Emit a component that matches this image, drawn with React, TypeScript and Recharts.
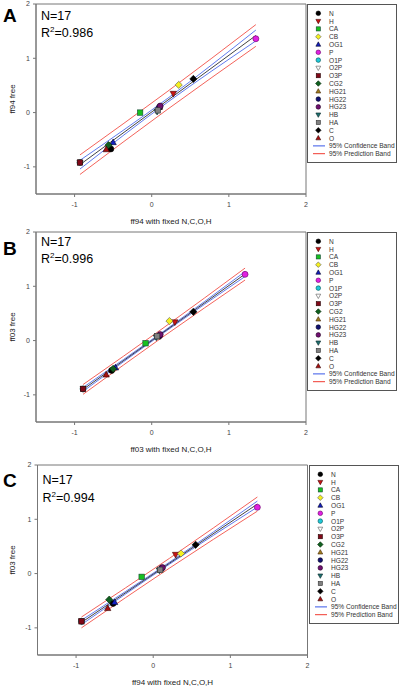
import React from "react";
import {
  ComposedChart,
  Scatter,
  Line,
  XAxis,
  YAxis,
  ReferenceArea,
} from "recharts";

const atoms = ["N", "H", "CA", "CB", "OG1", "P", "O1P", "O2P", "O3P", "CG2", "HG21", "HG22", "HG23", "HB", "HA", "C", "O"];

// A: ff94 with fixed N,C,O,H vs ff94 free
const fixedA = [-0.53, 0.28, -0.15, 0.35, -0.5, 1.35, -0.93, -0.93, -0.93, -0.56, 0.1, 0.1, 0.11, 0.07, 0.08, 0.54, -0.59];
const freeA = [-0.67, 0.35, 0.0, 0.51, -0.55, 1.36, -0.92, -0.92, -0.92, -0.6, 0.1, 0.1, 0.12, 0.02, 0.04, 0.62, -0.68];
const bandXA = [-0.93, 0.21, 1.35];
const fitA = [-0.96, 0.23, 1.42];
const confHiA = [-0.88, 0.265, 1.52];
const confLoA = [-1.04, 0.195, 1.32];
const predHiA = [-0.78, 0.395, 1.62];
const predLoA = [-1.14, 0.065, 1.22];

// B: ff03 with fixed N,C,O,H vs ff03 free
const fixedB = [-0.52, 0.3, -0.08, 0.23, -0.47, 1.21, -0.89, -0.89, -0.89, -0.5, 0.08, 0.1, 0.11, 0.06, 0.07, 0.54, -0.59];
const freeB = [-0.55, 0.34, -0.05, 0.36, -0.5, 1.22, -0.89, -0.89, -0.89, -0.52, 0.07, 0.09, 0.11, 0.06, 0.08, 0.53, -0.63];
const bandXB = [-0.89, 0.16, 1.21];
const fitB = [-0.9, 0.1625, 1.225];
const confHiB = [-0.865, 0.1775, 1.27];
const confLoB = [-0.935, 0.1475, 1.18];
const predHiB = [-0.81, 0.2425, 1.335];
const predLoB = [-0.99, 0.0825, 1.115];

// C: ff94 with fixed N,C,O,H vs ff03 free
const fixedC = [-0.52, 0.29, -0.15, 0.36, -0.5, 1.35, -0.93, -0.93, -0.93, -0.57, 0.09, 0.11, 0.12, 0.08, 0.09, 0.55, -0.59];
const freeC = [-0.55, 0.35, -0.06, 0.37, -0.53, 1.22, -0.88, -0.88, -0.88, -0.48, 0.07, 0.1, 0.11, 0.06, 0.07, 0.53, -0.64];
const bandXC = [-0.93, 0.21, 1.35];
const fitC = [-0.9, 0.19, 1.28];
const confHiC = [-0.86, 0.208, 1.335];
const confLoC = [-0.94, 0.172, 1.225];
const predHiC = [-0.8, 0.28, 1.41];
const predLoC = [-1.0, 0.1, 1.15];

const axisTicks = [-1, 0, 1, 2];

type Kind = "circle" | "square" | "diamond" | "up" | "down";
const symbols: Record<string, { kind: Kind; fill: string; stroke: string }> = {
  N: { kind: "circle", fill: "#000000", stroke: "#000" },
  H: { kind: "down", fill: "#c81414", stroke: "#400" },
  CA: { kind: "square", fill: "#18c020", stroke: "#143" },
  CB: { kind: "diamond", fill: "#f4f020", stroke: "#555" },
  OG1: { kind: "up", fill: "#1420c0", stroke: "#002" },
  P: { kind: "circle", fill: "#e020e0", stroke: "#606" },
  O1P: { kind: "circle", fill: "#20c8d8", stroke: "#055" },
  O2P: { kind: "down", fill: "#ffffff", stroke: "#555" },
  O3P: { kind: "square", fill: "#800818", stroke: "#200" },
  CG2: { kind: "diamond", fill: "#106020", stroke: "#020" },
  HG21: { kind: "up", fill: "#a08020", stroke: "#420" },
  HG22: { kind: "circle", fill: "#101070", stroke: "#002" },
  HG23: { kind: "circle", fill: "#701070", stroke: "#202" },
  HB: { kind: "down", fill: "#207070", stroke: "#022" },
  HA: { kind: "square", fill: "#808080", stroke: "#333" },
  C: { kind: "diamond", fill: "#000000", stroke: "#000" },
  O: { kind: "up", fill: "#a81010", stroke: "#300" },
};

const BLUE = "#3858e8";
const RED = "#f03a30";

function renderMarker(atom: string, cx: number, cy: number, r: number) {
  const s = symbols[atom];
  const common = { fill: s.fill, stroke: s.stroke, strokeWidth: 0.6 };
  if (s.kind === "circle") return <circle cx={cx} cy={cy} r={r} {...common} />;
  if (s.kind === "square")
    return <rect x={cx - r * 0.9} y={cy - r * 0.9} width={r * 1.8} height={r * 1.8} {...common} />;
  let pts = "";
  if (s.kind === "diamond") {
    const d = r * 1.2;
    pts = `${cx},${cy - d} ${cx + d},${cy} ${cx},${cy + d} ${cx - d},${cy}`;
  } else if (s.kind === "up") {
    pts = `${cx},${cy - r * 1.15} ${cx + r * 1.05},${cy + r * 0.75} ${cx - r * 1.05},${cy + r * 0.75}`;
  } else {
    pts = `${cx},${cy + r * 1.15} ${cx + r * 1.05},${cy - r * 0.75} ${cx - r * 1.05},${cy - r * 0.75}`;
  }
  return <polygon points={pts} {...common} />;
}

const legendLines = [
  { label: "95% Confidence Band", color: BLUE },
  { label: "95% Prediction Band", color: RED },
];

function LegendBox() {
  return (
    <svg width={90} height={159} style={{ display: "block" }}>
      <rect x={0.5} y={0.5} width={89} height={158} fill="#fff" stroke="#555" />
      {atoms.map((a, i) => {
        const y = 9.3 + i * 7.8;
        return (
          <g key={a}>
            {renderMarker(a, 11.3, y, 2.3)}
            <text x={22} y={y + 2.4} fontSize={6.6} fill="#333">
              {a}
            </text>
          </g>
        );
      })}
      {legendLines.map((l, i) => {
        const y = 9.3 + (17 + i) * 7.8;
        return (
          <g key={l.label}>
            <line x1={6} x2={18} y1={y} y2={y} stroke={l.color} strokeWidth={1} />
            <text x={22} y={y + 2.4} fontSize={6.6} fill="#333">
              {l.label}
            </text>
          </g>
        );
      })}
    </svg>
  );
}

const zip = (xs: number[], ys: number[]) => xs.map((x, i) => ({ x, y: ys[i] }));

function Panel(p: any) {
  const bands = [
    { ys: p.predHi, color: RED },
    { ys: p.predLo, color: RED },
    { ys: p.confHi, color: BLUE },
    { ys: p.confLo, color: BLUE },
    { ys: p.fit, color: "#111" },
  ];
  return (
    <div style={{ position: "absolute", left: 0, top: p.top, width: 400, height: 230 }}>
      <ComposedChart width={400} height={230} margin={{ top: 4, right: 400 - p.plotRight, bottom: 0, left: 0 }}>
        <XAxis
          type="number"
          dataKey="x"
          domain={[-1.5, 2]}
          ticks={axisTicks}
          height={36}
          tickSize={3}
          tickMargin={5}
          tick={{ fontSize: 7, fill: "#444" }}
          axisLine={{ stroke: "#777" }}
          tickLine={{ stroke: "#777" }}
          label={{ value: p.xLabel, position: "insideBottom", offset: 6, fontSize: 8, fill: "#222" }}
        />
        <YAxis
          type="number"
          dataKey="y"
          domain={[-1.5, 2]}
          ticks={axisTicks}
          width={p.plotLeft}
          tickSize={3}
          tickMargin={3}
          tick={{ fontSize: 7, fill: "#444" }}
          axisLine={{ stroke: "#777" }}
          tickLine={{ stroke: "#777" }}
          label={{
            value: p.yLabel,
            angle: -90,
            position: "insideLeft",
            offset: 12,
            fontSize: 8,
            fill: "#222",
            style: { textAnchor: "middle" },
          }}
        />
        <ReferenceArea x1={-1.5} x2={2} y1={-1.5} y2={2} fill="none" stroke="#777" />
        {bands.map((b, k) => (
          <Line
            key={k}
            data={zip(p.bandX, b.ys)}
            dataKey="y"
            type="natural"
            stroke={b.color}
            strokeWidth={0.8}
            dot={false}
            activeDot={false}
            legendType="none"
            isAnimationActive={false}
          />
        ))}
        {atoms.map((a, i) => (
          <Scatter
            key={a}
            name={a}
            data={[{ x: p.xs[i], y: p.ys[i] }]}
            isAnimationActive={false}
            shape={(s: any) => renderMarker(a, s.cx, s.cy, 3)}
          />
        ))}
      </ComposedChart>
      <div style={{ position: "absolute", left: p.plotRight + 1, top: 4 }}>
        <LegendBox />
      </div>
      <svg width={400} height={60} style={{ position: "absolute", left: 0, top: 0, pointerEvents: "none" }}>
        <text x={3} y={p.letterY} fontSize={19} fontWeight="bold" fill="#000">
          {p.letter}
        </text>
        <text x={p.plotLeft + 5} y={p.nY} fontSize={12.5} fill="#000">
          N=17
        </text>
        <text x={p.plotLeft + 5} y={p.rY} fontSize={12.5} fill="#000">
          R
          <tspan dy={-5} fontSize={8}>
            2
          </tspan>
          <tspan dy={5}>={p.r2}</tspan>
        </text>
      </svg>
    </div>
  );
}

export default function App() {
  return (
    <div
      style={{
        position: "absolute",
        left: 0,
        top: 0,
        width: 400,
        height: 687,
        background: "#fff",
        fontFamily: "'Liberation Sans', Arial, sans-serif",
        overflow: "hidden",
      }}
    >
      <Panel
        top={0}
        plotLeft={36}
        plotRight={306}
        letter="A"
        letterY={21.7}
        nY={20}
        rY={37.3}
        r2="0.986"
        xLabel="ff94 with fixed N,C,O,H"
        yLabel="ff94 free"
        xs={fixedA}
        ys={freeA}
        bandX={bandXA}
        fit={fitA}
        confHi={confHiA}
        confLo={confLoA}
        predHi={predHiA}
        predLo={predLoA}
      />
      <Panel
        top={228}
        plotLeft={36}
        plotRight={306}
        letter="B"
        letterY={26.7}
        nY={18.3}
        rY={35}
        r2="0.996"
        xLabel="ff03 with fixed N,C,O,H"
        yLabel="ff03 free"
        xs={fixedB}
        ys={freeB}
        bandX={bandXB}
        fit={fitB}
        confHi={confHiB}
        confLo={confLoB}
        predHi={predHiB}
        predLo={predLoB}
      />
      <Panel
        top={461}
        plotLeft={37.5}
        plotRight={307.5}
        letter="C"
        letterY={25.7}
        nY={23.3}
        rY={40.7}
        r2="0.994"
        xLabel="ff94 with fixed N,C,O,H"
        yLabel="ff03 free"
        xs={fixedC}
        ys={freeC}
        bandX={bandXC}
        fit={fitC}
        confHi={confHiC}
        confLo={confLoC}
        predHi={predHiC}
        predLo={predLoC}
      />
    </div>
  );
}
